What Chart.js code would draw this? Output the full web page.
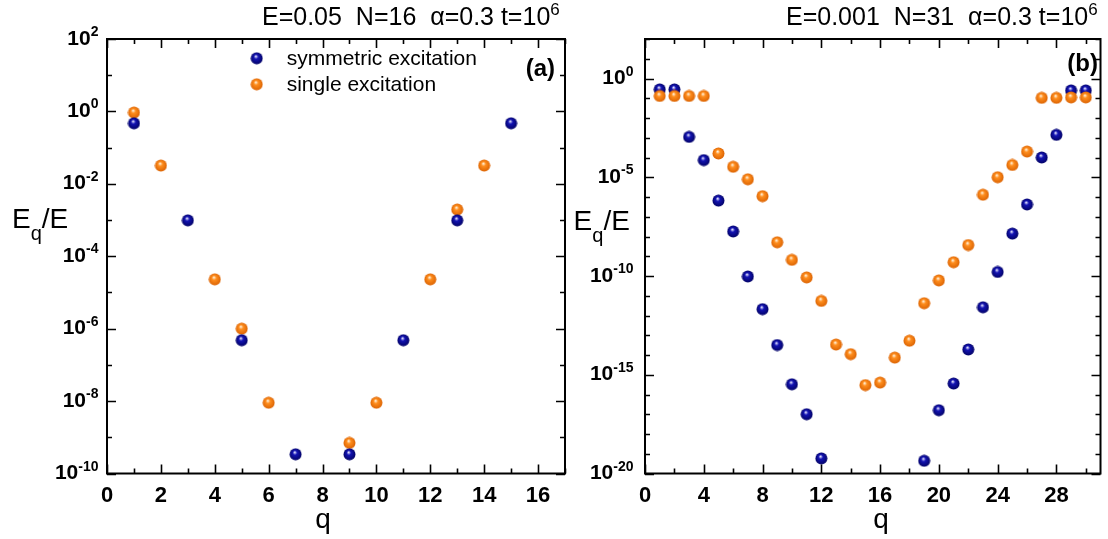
<!DOCTYPE html>
<html>
<head>
<meta charset="utf-8">
<script src="https://cdn.jsdelivr.net/npm/chart.js@4.4.1/dist/chart.umd.min.js"></script>
<style>
  body { margin: 0; background: #fff; width: 1108px; height: 539px; overflow: hidden; position: relative; }
  canvas { position: absolute; top: 0; }
  #chartA { left: 0; }
  #chartB { left: 555px; }
</style>
</head>
<body>
<canvas id="chartA" width="580" height="539"></canvas>
<canvas id="chartB" width="553" height="539"></canvas>
<script>
// panel (a): E=0.05 N=16
const qA = [1, 2, 3, 4, 5, 6, 7, 8, 9, 10, 11, 12, 13, 14, 15];
const symA = [0.47, null, 9.8e-4, null, 4.8e-7, null, 3.4e-10, null, 3.4e-10, null, 4.8e-7, null, 9.8e-4, null, 0.47];
const singleA = [0.93, 0.032, null, 2.3e-5, 1.0e-6, 9.0e-9, null, null, 7.0e-10, 9.0e-9, null, 2.3e-5, 1.95e-3, 0.032, null];

// panel (b): E=0.001 N=31
const qB = [1, 2, 3, 4, 5, 6, 7, 8, 9, 10, 11, 12, 13, 14, 15, 16, 17, 18, 19, 20, 21, 22, 23, 24, 25, 26, 27, 28, 29, 30];
const symB = [0.28, 0.28, 1.1e-3, 7.4e-5, 6.6e-7, 1.8e-8, 9.5e-11, 2.1e-12, 3.2e-14, 3.3e-16, 1.0e-17, 5.8e-20,
  null, null, null, null, null, null,
  4.4e-20, 1.6e-17, 3.6e-16, 1.9e-14, 2.6e-12, 1.6e-10, 1.4e-8, 4.2e-7, 1.0e-4, 1.4e-3, 0.25, 0.25];
const singleB = [0.13, 0.13, 0.13, 0.13, 1.6e-4, 3.4e-5, 7.9e-6, 1.1e-6, 5.1e-9, 6.6e-10, 8.5e-11, 5.5e-12,
  3.4e-14, 1.1e-14, 3.0e-16, 4.0e-16, 7.4e-15, 5.3e-14, 4.2e-12, 6.0e-11, 5.0e-10, 3.7e-9,
  1.3e-6, 1.0e-5, 4.2e-5, 2.0e-4, 0.105, 0.105, 0.11, 0.11];

const xTicksA = [0, 2, 4, 6, 8, 10, 12, 14, 16];
const xTicksB = [0, 4, 8, 12, 16, 20, 24, 28];
const yExpA = [-10, -8, -6, -4, -2, 0, 2];
const yExpB = [-20, -15, -10, -5, 0];

const FONT = '"Liberation Sans", Arial, sans-serif';

// shaded ball marker like the original plot
function makeBall(light, mid, dark) {
  const c = document.createElement('canvas');
  c.width = 13; c.height = 13;
  const g = c.getContext('2d');
  const grd = g.createRadialGradient(5.6, 4.4, 0.3, 6.5, 6.5, 6.6);
  grd.addColorStop(0, light);
  grd.addColorStop(0.3, mid);
  grd.addColorStop(1, dark);
  g.fillStyle = grd;
  g.beginPath();
  g.arc(6.5, 6.5, 6, 0, Math.PI * 2);
  g.fill();
  return c;
}
const blueBall = makeBall('#e6e6ff', '#1414b4', '#00005e');
const orangeBall = makeBall('#fff2dc', '#ff8e1e', '#d85f00');

function toPoints(qs, vals) {
  return qs.map((q, i) => ({ x: q, y: vals[i] })).filter(p => p.y !== null);
}

function supText(ctx, parts, x, y) {
  // parts: [text, font, dy]
  let cx = x;
  parts.forEach(([t, f, dy]) => {
    ctx.font = f;
    ctx.fillText(t, cx, y + dy);
    cx += ctx.measureText(t).width;
  });
}

function panelPlugin(p) {
  return {
    id: 'panel',
    afterDraw(chart) {
      const ctx = chart.ctx, a = chart.chartArea;
      const xs = chart.scales.x, ys = chart.scales.y;
      ctx.save();
      ctx.strokeStyle = '#000';
      ctx.fillStyle = '#000';

      // inward ticks on all four sides
      ctx.lineWidth = 1.6;
      ctx.beginPath();
      for (let v = 0; v <= p.xMax; v += p.xMinor) {
        const x = Math.round(xs.getPixelForValue(v)) + 0.5;
        const len = v % p.xMajor === 0 ? 9 : 5;
        ctx.moveTo(x, a.bottom); ctx.lineTo(x, a.bottom - len);
        ctx.moveTo(x, a.top); ctx.lineTo(x, a.top + len);
      }
      for (let e = p.yMin; e <= p.yMax; e++) {
        const y = Math.round(ys.getPixelForValue(Math.pow(10, e))) + 0.5;
        const len = p.yExps.includes(e) ? 9 : 5;
        ctx.moveTo(a.left, y); ctx.lineTo(a.left + len, y);
        ctx.moveTo(a.right, y); ctx.lineTo(a.right - len, y);
      }
      ctx.stroke();
      ctx.lineWidth = 2;
      ctx.strokeRect(a.left, a.top, a.right - a.left, a.bottom - a.top);

      // x tick labels
      ctx.font = 'bold 22px ' + FONT;
      ctx.textAlign = 'center';
      ctx.textBaseline = 'alphabetic';
      p.xTicks.forEach(v => ctx.fillText(String(v), xs.getPixelForValue(v), 502));

      // y tick labels 10^n
      ctx.textAlign = 'left';
      p.yExps.forEach(e => {
        const y = ys.getPixelForValue(Math.pow(10, e));
        ctx.font = 'bold 21px ' + FONT;
        const w1 = ctx.measureText('10').width;
        ctx.font = 'bold 14px ' + FONT;
        const w2 = ctx.measureText(String(e)).width;
        const x0 = a.left - p.yGap - w1 - w2;
        supText(ctx, [['10', 'bold 21px ' + FONT, 5.5], [String(e), 'bold 14px ' + FONT, -3]], x0, y);
      });

      // axis titles
      ctx.textAlign = 'left';
      supText(ctx, [['E', '28px ' + FONT, 0], ['q', '20px ' + FONT, 12], ['/E', '28px ' + FONT, 0]], p.yTitleX, p.yTitleY);
      ctx.textAlign = 'center';
      ctx.font = '28px ' + FONT;
      ctx.fillText('q', p.qX, 528);

      // top title
      ctx.textAlign = 'left';
      supText(ctx, [[p.title, '25px ' + FONT, 0], ['6', '17px ' + FONT, -10]], p.titleX, 25);

      // panel tag
      ctx.textAlign = 'right';
      ctx.font = 'bold 24px ' + FONT;
      ctx.fillText(p.tag, p.tagX, p.tagY);

      // legend
      if (p.legend) {
        ctx.textAlign = 'left';
        ctx.font = '21px ' + FONT;
        p.legend.forEach(([img, text, y]) => {
          ctx.drawImage(img, p.legendX - 6.5, y - 6.5);
          ctx.fillText(text, p.legendX + 30, y + 7);
        });
      }
      ctx.restore();
    }
  };
}

function makeChart(id, datasets, xMax, yMin, yMax, area, p) {
  const canvas = document.getElementById(id);
  return new Chart(canvas, {
    type: 'scatter',
    data: { datasets: datasets },
    options: {
      responsive: false,
      animation: false,
      events: [],
      layout: { padding: { left: 0, top: area.top, right: canvas.width - area.right, bottom: 0 } },
      plugins: { legend: { display: false }, title: { display: false }, tooltip: { enabled: false } },
      scales: {
        x: {
          type: 'linear', min: 0, max: xMax,
          ticks: { display: false }, grid: { display: false }, border: { display: false },
          afterFit: s => { s.height = 539 - area.bottom; }
        },
        y: {
          type: 'logarithmic', min: Math.pow(10, yMin), max: Math.pow(10, yMax),
          ticks: { display: false }, grid: { display: false }, border: { display: false },
          afterFit: s => { s.width = area.left; }
        }
      }
    },
    plugins: [panelPlugin(Object.assign({ xMax: xMax, yMin: yMin, yMax: yMax }, p))]
  });
}

// (a): blue drawn on top
makeChart('chartA', [
  { label: 'symmetric excitation', data: toPoints(qA, symA), pointStyle: blueBall, pointRadius: 6.5 },
  { label: 'single excitation', data: toPoints(qA, singleA), pointStyle: orangeBall, pointRadius: 6.5 }
], 17, -10, 2, { left: 107, right: 565, top: 39, bottom: 473.5 }, {
  xMinor: 1, xMajor: 2, xTicks: xTicksA, yExps: yExpA, yGap: 8.5,
  yTitleX: 12, yTitleY: 228, qX: 323,
  title: 'E=0.05  N=16  \u03B1=0.3 t=10', titleX: 262,
  tag: '(a)', tagX: 555, tagY: 76,
  legendX: 256.7,
  legend: [[blueBall, 'symmetric excitation', 58.3], [orangeBall, 'single excitation', 84.3]]
});

// (b): orange drawn on top
makeChart('chartB', [
  { label: 'single excitation', data: toPoints(qB, singleB), pointStyle: orangeBall, pointRadius: 6.5 },
  { label: 'symmetric excitation', data: toPoints(qB, symB), pointStyle: blueBall, pointRadius: 6.5 }
], 31, -20, 2, { left: 90, right: 547, top: 39, bottom: 473.5 }, {
  xMinor: 2, xMajor: 4, xTicks: xTicksB, yExps: yExpB, yGap: 11.5,
  yTitleX: 18.6, yTitleY: 230, qX: 326,
  title: 'E=0.001  N=31  \u03B1=0.3 t=10', titleX: 231,
  tag: '(b)', tagX: 543, tagY: 71
});
</script>
</body>
</html>
